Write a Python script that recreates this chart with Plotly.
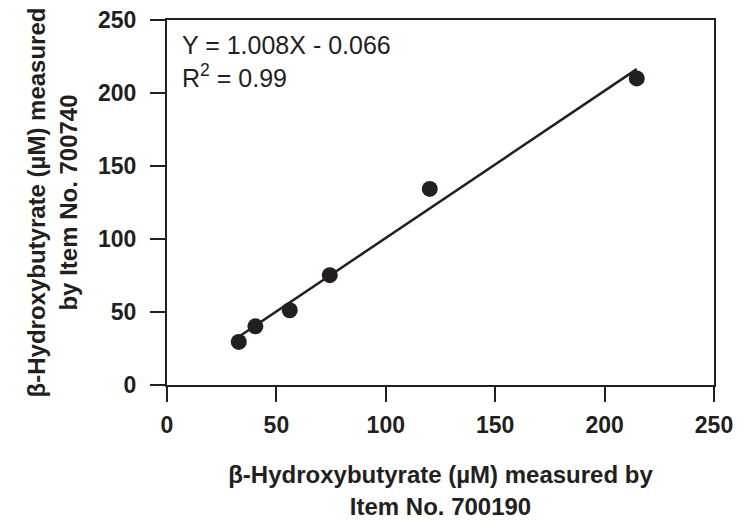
import plotly.graph_objects as go

# Data
x_item700190 = [32.8, 40.4, 56.1, 74.4, 120.1, 214.7]
y_item700740 = [29.5, 40.2, 51.2, 75.2, 134.3, 210.0]
fit_slope = 1.008
fit_intercept = -0.066
r_squared = 0.99
axis_ticks = [0, 50, 100, 150, 200, 250]

INK = "#231f20"
FONT = "Liberation Sans, Arial, Helvetica, sans-serif"

x_line = [min(x_item700190), max(x_item700190)]
y_line = [fit_slope * v + fit_intercept for v in x_line]

fig = go.Figure()
fig.add_trace(go.Scatter(x=x_line, y=y_line, mode="lines",
                         line=dict(color=INK, width=2.5), showlegend=False,
                         hoverinfo="skip"))
fig.add_trace(go.Scatter(x=x_item700190, y=y_item700740, mode="markers",
                         marker=dict(color=INK, size=16), showlegend=False))

fig.add_annotation(xref="paper", yref="paper", x=0.024, y=0.974,
                   xanchor="left", yanchor="top", align="left", showarrow=False,
                   text=f"Y = {fit_slope:.3f}X - {abs(fit_intercept):.3f}<br>R<sup>2</sup> = {r_squared:.2f}",
                   font=dict(family=FONT, size=25, color=INK))

axis_common = dict(range=[0, 250], tickvals=axis_ticks, showgrid=False, zeroline=False,
                   showline=True, linecolor=INK, linewidth=2, mirror=True,
                   ticks="outside", ticklen=15, tickwidth=2, tickcolor=INK,
                   tickfont=dict(family=FONT, size=23, color=INK, weight="bold"))

fig.update_xaxes(**axis_common, ticklabelstandoff=3,
                 title=dict(text="<b>β-Hydroxybutyrate (µM) measured by<br>Item No. 700190</b>",
                            font=dict(family=FONT, size=24, color=INK), standoff=30))
fig.update_yaxes(**axis_common, ticklabelstandoff=9,
                 title=dict(text="<b>β-Hydroxybutyrate (µM) measured<br>by Item No. 700740</b>",
                            font=dict(family=FONT, size=24, color=INK), standoff=14))

fig.update_layout(width=748, height=520,
                  margin=dict(l=167, r=34, t=20, b=135, autoexpand=False),
                  plot_bgcolor="white", paper_bgcolor="white")

fig.write_html("out.html", config={"displayModeBar": False},
               post_script="document.body.style.margin='0';document.body.style.padding='0';")
